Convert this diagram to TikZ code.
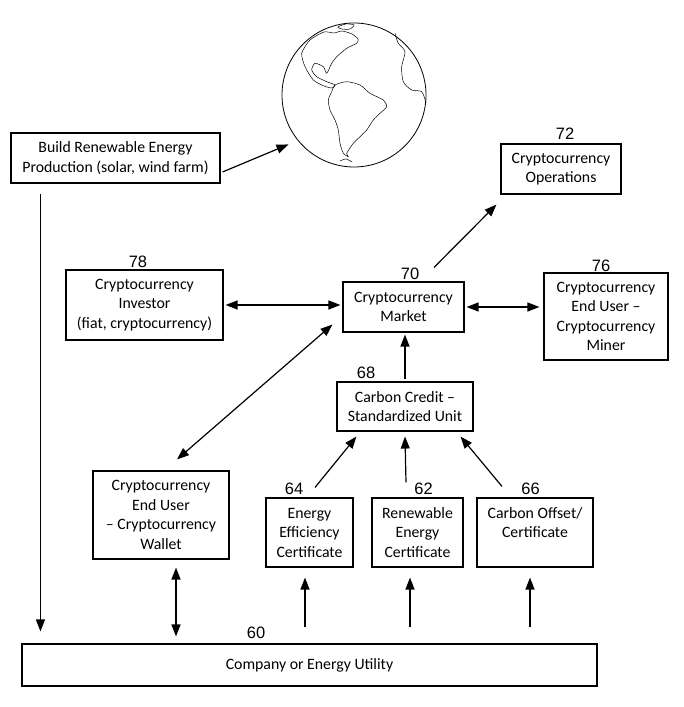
\documentclass[tikz,border=0pt]{standalone}
\usepackage{fontspec}
\setmainfont{Carlito}
\newfontfamily\numfont{Liberation Sans}
\usetikzlibrary{arrows.meta}
\tikzset{
  box/.style={
    draw,
    line width=1.1pt,
    align=center,
    inner sep=2pt,
    font=\fontsize{15.8}{19.5}\selectfont
  },
  num label/.style={
    font=\numfont\fontsize{16.5}{16.5}\selectfont,
    inner sep=0pt
  },
  link/.style={
    line width=1.2pt,
    -{Triangle[length=12pt,width=9pt]}
  },
  dbl link/.style={
    line width=1.2pt,
    {Triangle[length=12pt,width=9pt]}-{Triangle[length=12pt,width=9pt]}
  },
  coast/.style={
    line width=0.5pt,
  },
}

\begin{document}
\begin{tikzpicture}[x=1pt,y=1pt]
  \useasboundingbox (0,0) rectangle (683,707);
  % globe
  \node[draw, circle, line width=0.8pt, minimum size=144pt, inner sep=0pt] (globe) at (354,612) {};
  \begin{scope}[shift={(globe.center)}]
    \draw[coast] plot[smooth cycle, tension=0.4] coordinates {
      (-19,10) (-7.3,13.3) (6,10) (16,1.7) (29.3,-5) (32.7,-11.7) (26,-18.3)
      (19.3,-25) (12.7,-35) (6,-41.7) (-0.7,-48.3) (-7.3,-58.3) (-5.7,-61.7)
      (-10.7,-58.3) (-14,-48.3) (-15.7,-35) (-19,-25) (-24,-15) (-25.7,-5) (-22.3,3.3)};
    \draw[coast] plot[smooth cycle, tension=0.4] coordinates {
      (-22,7) (-30,9) (-40.7,15) (-49,28.3) (-52.3,41.7) (-44,55) (-30,63)
      (-20,62) (-12,64) (-2,61) (4,56) (2.7,51.7) (-7.3,46.7) (-17.3,38.3) (-22.3,31.7)
      (-27.3,21.7) (-30.7,28.3) (-39,31.7) (-42.3,25) (-37.3,18.3) (-27.3,13.3) (-19,10)};
    \draw[coast] plot[smooth cycle, tension=0.5] coordinates {
      (-16,68) (-8,71) (0,70) (-4,66) (-12,66)};
    \draw[coast] plot[smooth, tension=0.5] coordinates {
      (41,61.7) (44.3,51.7) (51,43.3) (47.7,28.3) (49.3,13.3) (57.7,5) (67.7,3.3) (72,-8)};
    \draw[coast] plot[smooth, tension=0.5] coordinates {
      (-14,-66) (-8,-64) (-2,-67)};
  \end{scope}

  % boxes
  \node[box, minimum width=209pt, minimum height=50pt] (build) at (115.5,549)
    {Build Renewable Energy\\ Production (solar, wind farm)};
  \node[box, minimum width=157pt, minimum height=70pt] (inv) at (144.5,402)
    {Cryptocurrency\\ Investor\\ (fiat, cryptocurrency)};
  \node[box, minimum width=121pt, minimum height=50pt] (mkt) at (403.5,400)
    {Cryptocurrency\\ Market};
  \node[box, minimum width=120pt, minimum height=50pt] (ops) at (561,538)
    {Cryptocurrency\\ Operations};
  \node[box, minimum width=124pt, minimum height=87pt] (miner) at (606,390.5)
    {Cryptocurrency\\ End User \textendash\\ Cryptocurrency\\ Miner};
  \node[box, minimum width=136pt, minimum height=49pt] (unit) at (405,300.5)
    {Carbon Credit \textendash\\ Standardized Unit};
  \node[box, minimum width=136pt, minimum height=88pt] (wallet) at (161,192)
    {Cryptocurrency\\ End User\\ \textendash{} Cryptocurrency\\ Wallet};
  \node[box, minimum width=87pt, minimum height=69pt] (eec) at (309.5,174.5)
    {Energy\\ Efficiency\\ Certificate};
  \node[box, minimum width=91pt, minimum height=69pt] (rec) at (417.5,174.5)
    {Renewable\\ Energy\\ Certificate};
  \node[box, minimum width=116pt, minimum height=69pt] (off) at (535,174.5)
    {Carbon Offset/\\ Certificate\\ \mbox{}};
  \node[box, minimum width=575pt, minimum height=42pt] (co) at (309.5,42)
    {Company or Energy Utility};

  % reference numbers
  \node[num label] (n78) at (138,445) {78};
  \node[num label] (n70) at (410,433) {70};
  \node[num label] (n72) at (565,573) {72};
  \node[num label] (n76) at (601,441) {76};
  \node[num label] (n68) at (366,334) {68};
  \node[num label] (n64) at (294,218) {64};
  \node[num label] (n62) at (423.5,218) {62};
  \node[num label] (n66) at (530.5,218) {66};
  \node[num label] (n60) at (256,74) {60};

  % connectors
  \draw[link, shorten >=10pt] ([xshift=2pt,yshift=-14pt]build.east) -- (globe.219);
  \draw[link] ([xshift=30pt,yshift=-10pt]build.south west) -- ([xshift=19pt,yshift=12pt]co.north west);
  \draw[dbl link, shorten <=2pt, shorten >=2pt] (inv.east) -- (inv.east -| mkt.west);
  \draw[dbl link, shorten <=2pt, shorten >=4pt] (mkt.east) -- (mkt.east -| miner.west);
  \draw[link] ([shift={(30.5pt,14pt)}]mkt.north) -- ([shift={(-4pt,-10pt)}]ops.south west);
  \draw[link, shorten <=2pt, shorten >=2pt] (unit.north) -- (unit.north |- mkt.south);
  \draw[dbl link] ([shift={(-10pt,8pt)}]mkt.south west) -- ([shift={(16pt,11pt)}]wallet.north);
  \draw[dbl link, shorten <=8pt, shorten >=7pt] ([xshift=15pt]wallet.south) -- ([xshift=15pt]wallet.south |- co.north);
  \draw[link] ([shift={(5.5pt,10pt)}]eec.north) -- ([shift={(20pt,-5pt)}]unit.south west);
  \draw[link] ([shift={(-11.5pt,15pt)}]rec.north) -- ([shift={(0pt,-5pt)}]unit.south);
  \draw[link] ([shift={(-33pt,11pt)}]off.north) -- ([shift={(-13pt,-5pt)}]unit.south east);
  \foreach \b/\dx in {eec/-4.5pt, rec/-7.5pt, off/-5pt}
    \draw[link, shorten <=16pt, shorten >=10pt] ([xshift=\dx]\b.south |- co.north) -- ([xshift=\dx]\b.south);
\end{tikzpicture}
\end{document}
